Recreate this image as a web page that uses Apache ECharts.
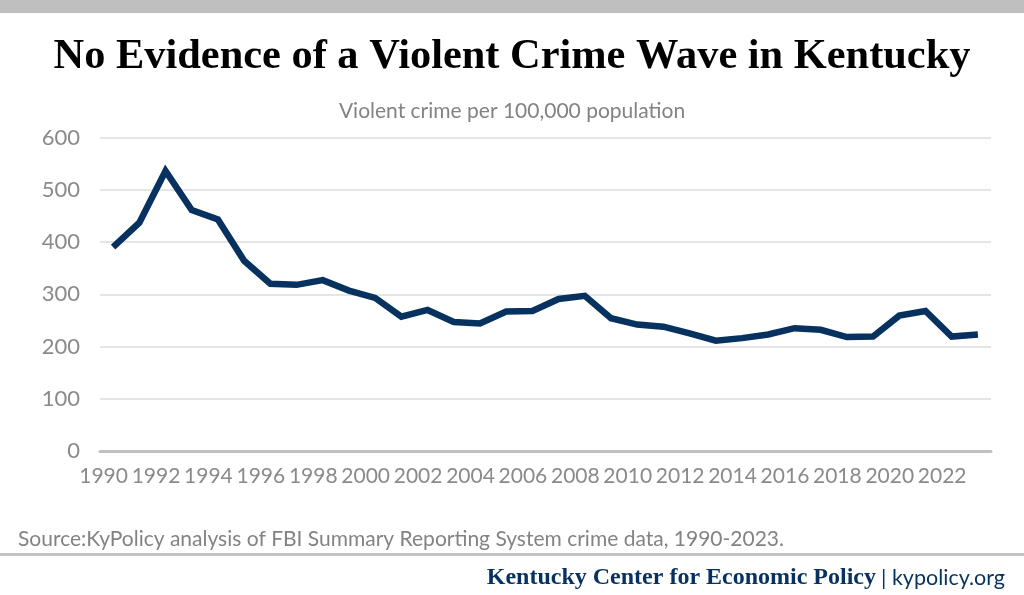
<!DOCTYPE html>
<html>
<head>
<meta charset="utf-8">
<script src="https://cdn.jsdelivr.net/npm/echarts@6/dist/echarts.min.js"></script>
<style>
html,body{margin:0;padding:0;background:#fff;}
#chart{width:1024px;height:595px;}
</style>
</head>
<body>
<div id="chart"></div>
<script>
const years = ['1990','1991','1992','1993','1994','1995','1996','1997','1998','1999','2000','2001','2002','2003','2004','2005','2006','2007','2008','2009','2010','2011','2012','2013','2014','2015','2016','2017','2018','2019','2020','2021','2022','2023'];
const violentCrimeRate = [390,437,536,461,443,364,320,318,327,307,293,257,270,247,244,267,268,291,297,254,242,238,225,211,216,223,235,232,218,219,259,268,219,223];
const yTicks = {min:0, max:600, interval:100};

const titleText = 'No Evidence of a Violent Crime Wave in Kentucky';
const subtitleText = 'Violent crime per 100,000 population';
const sourceText = 'Source:KyPolicy analysis of FBI Summary Reporting System crime data, 1990-2023.';
const brandName = 'Kentucky Center for Economic Policy';
const brandSite = 'kypolicy.org';

const navy = '#07325f';
const sans = 'Lato, "Noto Sans", sans-serif';
const serif = '"Liberation Serif", "DejaVu Serif", serif';

const chart = echarts.init(document.getElementById('chart'), null, {renderer:'canvas'});
chart.setOption({
  backgroundColor:'#ffffff',
  animation:false,
  title:[
    {text:titleText, left:'center', top:31,
     textStyle:{fontFamily:serif, fontWeight:'bold', fontSize:42.4, color:'#000'}},
    {text:subtitleText, left:'center', top:96,
     textStyle:{fontFamily:sans, fontWeight:'normal', fontSize:21, color:'#838383'}},
    {text:sourceText, left:13, top:524,
     textStyle:{fontFamily:sans, fontWeight:'normal', fontSize:21, color:'#838383'}},
    {text:'{b|' + brandName + '} {s|| ' + brandSite + '}', right:14, top:561,
     textStyle:{rich:{
       b:{fontFamily:serif, fontWeight:'bold', fontSize:24, color:navy},
       s:{fontFamily:sans, fontWeight:'normal', fontSize:21.5, color:navy}
     }}}
  ],
  graphic:[
    {type:'rect', left:0, top:0, shape:{width:1024, height:13}, style:{fill:'#bfbfbf'}},
    {type:'rect', left:0, top:553, shape:{width:1024, height:3}, style:{fill:'#c4c4c4'}}
  ],
  grid:{left:100, right:33, top:137.5, bottom:144, containLabel:false},
  xAxis:{
    type:'category', data:years, boundaryGap:true,
    axisLine:{show:true, lineStyle:{color:'#c0c0c0', width:3}},
    axisTick:{show:false},
    axisLabel:{interval:1, margin:15, fontFamily:sans, fontSize:21, color:'#8a8a8a', padding:[0,19,0,0]},
    splitLine:{show:false}
  },
  yAxis:{
    type:'value', min:yTicks.min, max:yTicks.max, interval:yTicks.interval,
    axisLine:{show:false}, axisTick:{show:false},
    axisLabel:{margin:20, fontFamily:sans, fontSize:22, color:'#8a8a8a'},
    splitLine:{lineStyle:{color:'#dcdcdc', width:1.5}}
  },
  series:[{
    type:'line', data:violentCrimeRate, showSymbol:false, symbol:'none',
    lineStyle:{color:navy, width:6.5, join:'miter'},
    itemStyle:{color:navy}
  }]
});
</script>
</body>
</html>
